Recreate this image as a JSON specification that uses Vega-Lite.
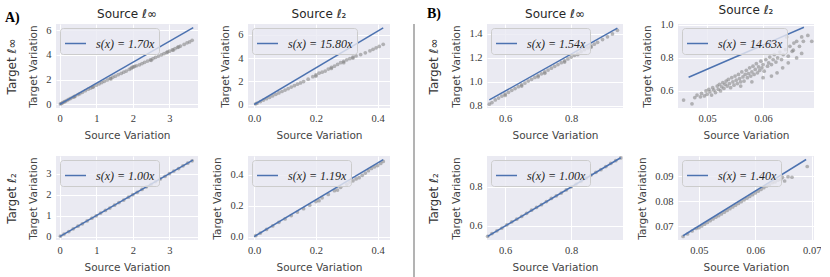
{
"$schema": "https://vega.github.io/schema/vega-lite/v6.json",
"padding": {"left": 5, "top": 3, "right": 0, "bottom": 0},
"background": "white",
"datasets": {
"a1p": [{"x":0.02,"y":0.03},{"x":0.05,"y":0.08},{"x":0.08,"y":0.12},{"x":0.12,"y":0.19},{"x":0.15,"y":0.23},{"x":0.2,"y":0.31},{"x":0.25,"y":0.4},{"x":0.3,"y":0.47},{"x":0.36,"y":0.57},{"x":0.4,"y":0.61},{"x":0.42,"y":0.66},{"x":0.5,"y":0.79},{"x":0.55,"y":0.86},{"x":0.62,"y":0.97},{"x":0.7,"y":1.1},{"x":0.78,"y":1.22},{"x":0.85,"y":1.31},{"x":0.9,"y":1.38},{"x":0.92,"y":1.43},{"x":1.0,"y":1.55},{"x":1.08,"y":1.66},{"x":1.15,"y":1.76},{"x":1.22,"y":1.86},{"x":1.3,"y":1.97},{"x":1.38,"y":2.09},{"x":1.4,"y":2.05},{"x":1.45,"y":2.19},{"x":1.52,"y":2.28},{"x":1.6,"y":2.4},{"x":1.68,"y":2.5},{"x":1.75,"y":2.6},{"x":1.82,"y":2.69},{"x":1.9,"y":2.82},{"x":1.95,"y":2.9},{"x":1.98,"y":2.98},{"x":2.02,"y":3.02},{"x":2.05,"y":3.08},{"x":2.1,"y":3.12},{"x":2.18,"y":3.2},{"x":2.25,"y":3.3},{"x":2.32,"y":3.4},{"x":2.4,"y":3.5},{"x":2.48,"y":3.6},{"x":2.5,"y":3.56},{"x":2.55,"y":3.7},{"x":2.62,"y":3.8},{"x":2.7,"y":3.9},{"x":2.78,"y":4.01},{"x":2.85,"y":4.1},{"x":2.92,"y":4.19},{"x":2.95,"y":4.24},{"x":3.0,"y":4.3},{"x":3.08,"y":4.41},{"x":3.1,"y":4.38},{"x":3.15,"y":4.5},{"x":3.22,"y":4.6},{"x":3.25,"y":4.64},{"x":3.3,"y":4.71},{"x":3.4,"y":4.85},{"x":3.48,"y":4.98},{"x":3.55,"y":5.05},{"x":3.62,"y":5.18}],
"a1l": [{"x":0,"y":0,"label":"s(x) = 1.70x"},{"x":3.65,"y":6.205,"label":"s(x) = 1.70x"}],
"a2p": [{"x":0.005,"y":0.06},{"x":0.01,"y":0.13},{"x":0.02,"y":0.25},{"x":0.03,"y":0.38},{"x":0.04,"y":0.5},{"x":0.05,"y":0.62},{"x":0.06,"y":0.75},{"x":0.07,"y":0.88},{"x":0.08,"y":1.0},{"x":0.09,"y":1.12},{"x":0.1,"y":1.24},{"x":0.11,"y":1.36},{"x":0.12,"y":1.5},{"x":0.13,"y":1.62},{"x":0.14,"y":1.75},{"x":0.15,"y":1.86},{"x":0.16,"y":1.98},{"x":0.175,"y":2.18},{"x":0.19,"y":2.4},{"x":0.2,"y":2.45},{"x":0.2,"y":2.55},{"x":0.21,"y":2.7},{"x":0.22,"y":2.78},{"x":0.23,"y":2.88},{"x":0.24,"y":3.05},{"x":0.25,"y":3.1},{"x":0.25,"y":3.2},{"x":0.26,"y":3.3},{"x":0.27,"y":3.45},{"x":0.28,"y":3.6},{"x":0.29,"y":3.6},{"x":0.29,"y":3.72},{"x":0.3,"y":3.85},{"x":0.31,"y":3.95},{"x":0.32,"y":4.0},{"x":0.32,"y":4.08},{"x":0.33,"y":4.18},{"x":0.345,"y":4.3},{"x":0.36,"y":4.45},{"x":0.375,"y":4.62},{"x":0.385,"y":4.75},{"x":0.395,"y":4.88},{"x":0.405,"y":5.0},{"x":0.418,"y":5.18}],
"a2l": [{"x":0,"y":0,"label":"s(x) = 15.80x"},{"x":0.418,"y":6.6,"label":"s(x) = 15.80x"}],
"a3p": [{"x":0.02,"y":0.02},{"x":0.12,"y":0.12},{"x":0.25,"y":0.24},{"x":0.37,"y":0.37},{"x":0.5,"y":0.5},{"x":0.62,"y":0.61},{"x":0.75,"y":0.75},{"x":0.88,"y":0.88},{"x":1.0,"y":0.99},{"x":1.12,"y":1.12},{"x":1.25,"y":1.25},{"x":1.37,"y":1.36},{"x":1.5,"y":1.5},{"x":1.62,"y":1.62},{"x":1.75,"y":1.74},{"x":1.88,"y":1.88},{"x":2.0,"y":2.0},{"x":2.12,"y":2.11},{"x":2.25,"y":2.25},{"x":2.37,"y":2.37},{"x":2.5,"y":2.49},{"x":2.62,"y":2.62},{"x":2.75,"y":2.75},{"x":2.88,"y":2.87},{"x":3.0,"y":3.0},{"x":3.12,"y":3.12},{"x":3.25,"y":3.24},{"x":3.37,"y":3.37},{"x":3.5,"y":3.5},{"x":3.62,"y":3.61}],
"a3l": [{"x":0,"y":0,"label":"s(x) = 1.00x"},{"x":3.64,"y":3.64,"label":"s(x) = 1.00x"}],
"a4p": [{"x":0.005,"y":0.006},{"x":0.02,"y":0.023},{"x":0.04,"y":0.046},{"x":0.06,"y":0.069},{"x":0.08,"y":0.092},{"x":0.1,"y":0.114},{"x":0.12,"y":0.136},{"x":0.14,"y":0.158},{"x":0.16,"y":0.18},{"x":0.18,"y":0.203},{"x":0.2,"y":0.226},{"x":0.21,"y":0.232},{"x":0.22,"y":0.25},{"x":0.24,"y":0.272},{"x":0.26,"y":0.296},{"x":0.27,"y":0.3},{"x":0.28,"y":0.318},{"x":0.3,"y":0.338},{"x":0.31,"y":0.352},{"x":0.32,"y":0.36},{"x":0.33,"y":0.372},{"x":0.34,"y":0.38},{"x":0.35,"y":0.395},{"x":0.36,"y":0.41},{"x":0.37,"y":0.425},{"x":0.38,"y":0.44},{"x":0.39,"y":0.45},{"x":0.4,"y":0.458},{"x":0.41,"y":0.472},{"x":0.418,"y":0.485}],
"a4l": [{"x":0,"y":0,"label":"s(x) = 1.19x"},{"x":0.418,"y":0.497,"label":"s(x) = 1.19x"}],
"b1p": [{"x":0.552,"y":0.815},{"x":0.56,"y":0.828},{"x":0.57,"y":0.85},{"x":0.58,"y":0.866},{"x":0.59,"y":0.882},{"x":0.6,"y":0.899},{"x":0.6,"y":0.888},{"x":0.61,"y":0.914},{"x":0.62,"y":0.93},{"x":0.63,"y":0.945},{"x":0.64,"y":0.961},{"x":0.65,"y":0.976},{"x":0.65,"y":0.966},{"x":0.66,"y":0.991},{"x":0.67,"y":1.007},{"x":0.68,"y":1.022},{"x":0.69,"y":1.038},{"x":0.7,"y":1.053},{"x":0.7,"y":1.043},{"x":0.71,"y":1.068},{"x":0.72,"y":1.084},{"x":0.72,"y":1.072},{"x":0.73,"y":1.099},{"x":0.74,"y":1.115},{"x":0.75,"y":1.13},{"x":0.76,"y":1.145},{"x":0.77,"y":1.161},{"x":0.78,"y":1.176},{"x":0.78,"y":1.166},{"x":0.79,"y":1.192},{"x":0.8,"y":1.207},{"x":0.81,"y":1.222},{"x":0.82,"y":1.238},{"x":0.82,"y":1.228},{"x":0.83,"y":1.253},{"x":0.84,"y":1.269},{"x":0.85,"y":1.284},{"x":0.86,"y":1.299},{"x":0.86,"y":1.29},{"x":0.87,"y":1.315},{"x":0.88,"y":1.33},{"x":0.895,"y":1.353},{"x":0.91,"y":1.376},{"x":0.925,"y":1.4},{"x":0.94,"y":1.43}],
"b1l": [{"x":0.552,"y":0.85,"label":"s(x) = 1.54x"},{"x":0.94,"y":1.448,"label":"s(x) = 1.54x"}],
"b2p": [{"x":0.0458,"y":0.545},{"x":0.0473,"y":0.522},{"x":0.0478,"y":0.56},{"x":0.0482,"y":0.575},{"x":0.0488,"y":0.565},{"x":0.049,"y":0.585},{"x":0.0495,"y":0.57},{"x":0.0498,"y":0.6},{"x":0.05,"y":0.58},{"x":0.0503,"y":0.61},{"x":0.0505,"y":0.595},{"x":0.0508,"y":0.575},{"x":0.051,"y":0.62},{"x":0.0512,"y":0.605},{"x":0.0515,"y":0.59},{"x":0.0518,"y":0.63},{"x":0.052,"y":0.61},{"x":0.0522,"y":0.64},{"x":0.0524,"y":0.6},{"x":0.0526,"y":0.625},{"x":0.0528,"y":0.65},{"x":0.053,"y":0.615},{"x":0.0532,"y":0.64},{"x":0.0534,"y":0.66},{"x":0.0536,"y":0.63},{"x":0.0538,"y":0.67},{"x":0.054,"y":0.645},{"x":0.0542,"y":0.62},{"x":0.0544,"y":0.68},{"x":0.0546,"y":0.655},{"x":0.0548,"y":0.635},{"x":0.055,"y":0.69},{"x":0.0552,"y":0.665},{"x":0.0554,"y":0.645},{"x":0.0556,"y":0.7},{"x":0.0558,"y":0.675},{"x":0.056,"y":0.655},{"x":0.056,"y":0.63},{"x":0.0562,"y":0.715},{"x":0.0564,"y":0.685},{"x":0.0566,"y":0.66},{"x":0.0568,"y":0.7},{"x":0.057,"y":0.725},{"x":0.0572,"y":0.68},{"x":0.0574,"y":0.705},{"x":0.0576,"y":0.74},{"x":0.0578,"y":0.69},{"x":0.058,"y":0.715},{"x":0.058,"y":0.655},{"x":0.0582,"y":0.75},{"x":0.0584,"y":0.7},{"x":0.0586,"y":0.73},{"x":0.0588,"y":0.765},{"x":0.059,"y":0.71},{"x":0.0592,"y":0.745},{"x":0.0594,"y":0.725},{"x":0.0596,"y":0.78},{"x":0.0598,"y":0.74},{"x":0.06,"y":0.76},{"x":0.06,"y":0.68},{"x":0.0602,"y":0.72},{"x":0.0605,"y":0.79},{"x":0.0608,"y":0.75},{"x":0.061,"y":0.77},{"x":0.0612,"y":0.805},{"x":0.06125,"y":0.89},{"x":0.0615,"y":0.76},{"x":0.0615,"y":0.69},{"x":0.0618,"y":0.79},{"x":0.062,"y":0.82},{"x":0.0623,"y":0.775},{"x":0.0625,"y":0.71},{"x":0.0626,"y":0.8},{"x":0.063,"y":0.835},{"x":0.0633,"y":0.79},{"x":0.0635,"y":0.74},{"x":0.0636,"y":0.82},{"x":0.064,"y":0.85},{"x":0.0642,"y":0.927},{"x":0.0645,"y":0.81},{"x":0.0645,"y":0.77},{"x":0.0648,"y":0.87},{"x":0.0652,"y":0.84},{"x":0.0654,"y":0.847},{"x":0.0655,"y":0.89},{"x":0.066,"y":0.9},{"x":0.066,"y":0.8},{"x":0.0665,"y":0.87},{"x":0.0669,"y":0.927},{"x":0.0669,"y":0.827},{"x":0.0672,"y":0.9},{"x":0.068,"y":0.936},{"x":0.0687,"y":0.9}],
"b2l": [{"x":0.0467,"y":0.683,"label":"s(x) = 14.63x"},{"x":0.0673,"y":0.985,"label":"s(x) = 14.63x"}],
"b3p": [{"x":0.547,"y":0.547},{"x":0.56,"y":0.561},{"x":0.575,"y":0.575},{"x":0.59,"y":0.589},{"x":0.605,"y":0.605},{"x":0.62,"y":0.621},{"x":0.635,"y":0.635},{"x":0.65,"y":0.649},{"x":0.665,"y":0.665},{"x":0.68,"y":0.681},{"x":0.695,"y":0.695},{"x":0.71,"y":0.709},{"x":0.725,"y":0.725},{"x":0.74,"y":0.741},{"x":0.755,"y":0.755},{"x":0.77,"y":0.769},{"x":0.785,"y":0.785},{"x":0.8,"y":0.801},{"x":0.815,"y":0.815},{"x":0.83,"y":0.829},{"x":0.845,"y":0.845},{"x":0.86,"y":0.861},{"x":0.875,"y":0.875},{"x":0.89,"y":0.889},{"x":0.905,"y":0.905},{"x":0.92,"y":0.921},{"x":0.935,"y":0.935},{"x":0.95,"y":0.949}],
"b3l": [{"x":0.547,"y":0.547,"label":"s(x) = 1.00x"},{"x":0.95,"y":0.95,"label":"s(x) = 1.00x"}],
"b4p": [{"x":0.0472,"y":0.0658},{"x":0.048,"y":0.0668},{"x":0.0488,"y":0.068},{"x":0.0495,"y":0.069},{"x":0.05,"y":0.0693},{"x":0.0505,"y":0.07},{"x":0.051,"y":0.0707},{"x":0.0515,"y":0.0714},{"x":0.052,"y":0.0721},{"x":0.0525,"y":0.0728},{"x":0.053,"y":0.0735},{"x":0.0535,"y":0.0741},{"x":0.054,"y":0.0748},{"x":0.0545,"y":0.0755},{"x":0.055,"y":0.0762},{"x":0.0555,"y":0.0769},{"x":0.056,"y":0.0776},{"x":0.0565,"y":0.0783},{"x":0.057,"y":0.079},{"x":0.0575,"y":0.0797},{"x":0.058,"y":0.0804},{"x":0.0585,"y":0.0811},{"x":0.059,"y":0.0818},{"x":0.0595,"y":0.0825},{"x":0.06,"y":0.0832},{"x":0.0605,"y":0.0839},{"x":0.061,"y":0.0846},{"x":0.0615,"y":0.0853},{"x":0.062,"y":0.086},{"x":0.0625,"y":0.0865},{"x":0.063,"y":0.0873},{"x":0.0635,"y":0.0876},{"x":0.064,"y":0.0883},{"x":0.0645,"y":0.0887},{"x":0.0648,"y":0.0895},{"x":0.0652,"y":0.088},{"x":0.0658,"y":0.0897},{"x":0.0665,"y":0.0895},{"x":0.0692,"y":0.0938}],
"b4l": [{"x":0.0472,"y":0.0661,"label":"s(x) = 1.40x"},{"x":0.069,"y":0.0966,"label":"s(x) = 1.40x"}]
},
"hconcat": [
{
 "title": {"text": "A)", "anchor": "start", "frame": "bounds", "font": "Liberation Serif", "fontWeight": "bold", "fontSize": 14, "color": "black", "offset": -17},
 "columns": 2, "spacing": {"row": 48, "column": 50}, "bounds": "flush",
 "resolve": {"scale": {"color": "independent"}},
 "concat": [
  {"width": 142, "height": 84, "title": {"text": "Source ℓ∞", "frame": "group"},
   "layer": [
    {"data": {"name": "a1p"}, "mark": {"type": "circle", "size": 14, "color": "#808080", "opacity": 0.55},
     "encoding": {"x": {"field": "x", "type": "quantitative", "scale": {"domain": [-0.1, 3.78], "nice": false, "zero": false}, "axis": {"values": [0,1,2,3], "title": "Source Variation"}},
                  "y": {"field": "y", "type": "quantitative", "scale": {"domain": [-0.3, 6.5], "nice": false, "zero": false}, "axis": {"values": [0,2,4,6], "title": "Target Variation"}}}},
    {"data": {"name": "a1l"}, "mark": {"type": "line", "strokeWidth": 1.5},
     "encoding": {"x": {"field": "x", "type": "quantitative", "axis": {"values": [0,1,2,3], "title": "Source Variation"}},
                  "y": {"field": "y", "type": "quantitative", "scale": {"domain": [-0.3, 6.5], "nice": false, "zero": false}, "axis": {"orient": "left", "offset": 38, "labels": false, "grid": false, "title": "Target ℓ∞", "titleFontSize": 12, "titleColor": "#333333", "titlePadding": 0}},
                  "color": {"field": "label", "type": "nominal", "scale": {"range": ["#4C72B0"]}, "legend": {"title": null}}}}
   ],
   "resolve": {"scale": {"y": "independent"}}},
  {"width": 142, "height": 84, "title": {"text": "Source ℓ₂", "frame": "group"},
   "layer": [
    {"data": {"name": "a2p"}, "mark": {"type": "circle", "size": 14, "color": "#808080", "opacity": 0.55},
     "encoding": {"x": {"field": "x", "type": "quantitative", "scale": {"domain": [-0.02, 0.44], "nice": false, "zero": false}, "axis": {"values": [0,0.2,0.4], "format": ".1f", "title": "Source Variation"}},
                  "y": {"field": "y", "type": "quantitative", "scale": {"domain": [-0.3, 6.93], "nice": false, "zero": false}, "axis": {"values": [0,2,4,6], "title": "Target Variation"}}}},
    {"data": {"name": "a2l"}, "mark": {"type": "line", "strokeWidth": 1.5},
     "encoding": {"x": {"field": "x", "type": "quantitative", "axis": {"values": [0,0.2,0.4], "format": ".1f", "title": "Source Variation"}},
                  "y": {"field": "y", "type": "quantitative", "axis": {"values": [0,2,4,6], "title": "Target Variation"}},
                  "color": {"field": "label", "type": "nominal", "scale": {"range": ["#4C72B0"]}, "legend": {"title": null}}}}
   ]},
  {"width": 142, "height": 84,
   "layer": [
    {"data": {"name": "a3p"}, "mark": {"type": "circle", "size": 14, "color": "#808080", "opacity": 0.55},
     "encoding": {"x": {"field": "x", "type": "quantitative", "scale": {"domain": [-0.1, 3.78], "nice": false, "zero": false}, "axis": {"values": [0,1,2,3], "title": "Source Variation"}},
                  "y": {"field": "y", "type": "quantitative", "scale": {"domain": [-0.16, 3.84], "nice": false, "zero": false}, "axis": {"values": [0,1,2,3], "title": "Target Variation"}}}},
    {"data": {"name": "a3l"}, "mark": {"type": "line", "strokeWidth": 1.5},
     "encoding": {"x": {"field": "x", "type": "quantitative", "axis": {"values": [0,1,2,3], "title": "Source Variation"}},
                  "y": {"field": "y", "type": "quantitative", "scale": {"domain": [-0.16, 3.84], "nice": false, "zero": false}, "axis": {"orient": "left", "offset": 38, "labels": false, "grid": false, "title": "Target ℓ₂", "titleFontSize": 12, "titleColor": "#333333", "titlePadding": 0}},
                  "color": {"field": "label", "type": "nominal", "scale": {"range": ["#4C72B0"]}, "legend": {"title": null}}}}
   ],
   "resolve": {"scale": {"y": "independent"}}},
  {"width": 142, "height": 84,
   "layer": [
    {"data": {"name": "a4p"}, "mark": {"type": "circle", "size": 14, "color": "#808080", "opacity": 0.55},
     "encoding": {"x": {"field": "x", "type": "quantitative", "scale": {"domain": [-0.02, 0.44], "nice": false, "zero": false}, "axis": {"values": [0,0.2,0.4], "format": ".1f", "title": "Source Variation"}},
                  "y": {"field": "y", "type": "quantitative", "scale": {"domain": [-0.022, 0.52], "nice": false, "zero": false}, "axis": {"values": [0,0.2,0.4], "format": ".1f", "title": "Target Variation"}}}},
    {"data": {"name": "a4l"}, "mark": {"type": "line", "strokeWidth": 1.5},
     "encoding": {"x": {"field": "x", "type": "quantitative", "axis": {"values": [0,0.2,0.4], "format": ".1f", "title": "Source Variation"}},
                  "y": {"field": "y", "type": "quantitative", "axis": {"values": [0,0.2,0.4], "format": ".1f", "title": "Target Variation"}},
                  "color": {"field": "label", "type": "nominal", "scale": {"range": ["#4C72B0"]}, "legend": {"title": null}}}}
   ]}
 ]
},
{
 "width": 12, "height": 274,
 "view": {"fill": null, "stroke": null},
 "data": {"values": [{}]},
 "mark": {"type": "rule", "color": "#8a8a8a", "strokeWidth": 1.3},
 "encoding": {"x": {"datum": 1, "type": "quantitative", "scale": {"domain": [0, 1]}, "axis": null}}
},
{
 "title": {"text": "B)", "anchor": "start", "frame": "bounds", "font": "Liberation Serif", "fontWeight": "bold", "fontSize": 14, "color": "black", "offset": -17},
 "columns": 2, "spacing": {"row": 48, "column": 55}, "bounds": "flush",
 "resolve": {"scale": {"color": "independent"}},
 "concat": [
  {"width": 136, "height": 84, "title": {"text": "Source ℓ∞", "frame": "group"},
   "layer": [
    {"data": {"name": "b1p"}, "mark": {"type": "circle", "size": 14, "color": "#808080", "opacity": 0.55},
     "encoding": {"x": {"field": "x", "type": "quantitative", "scale": {"domain": [0.545, 0.957], "nice": false, "zero": false}, "axis": {"values": [0.6,0.8], "format": ".1f", "title": "Source Variation"}},
                  "y": {"field": "y", "type": "quantitative", "scale": {"domain": [0.783, 1.483], "nice": false, "zero": false}, "axis": {"values": [0.8,1.0,1.2,1.4], "format": ".1f", "title": "Target Variation"}}}},
    {"data": {"name": "b1l"}, "mark": {"type": "line", "strokeWidth": 1.5},
     "encoding": {"x": {"field": "x", "type": "quantitative", "axis": {"values": [0.6,0.8], "format": ".1f", "title": "Source Variation"}},
                  "y": {"field": "y", "type": "quantitative", "scale": {"domain": [0.783, 1.483], "nice": false, "zero": false}, "axis": {"orient": "left", "offset": 47, "labels": false, "grid": false, "title": "Target ℓ∞", "titleFontSize": 12, "titleColor": "#333333", "titlePadding": 0}},
                  "color": {"field": "label", "type": "nominal", "scale": {"range": ["#4C72B0"]}, "legend": {"title": null}}}}
   ],
   "resolve": {"scale": {"y": "independent"}}},
  {"width": 136, "height": 84, "title": {"text": "Source ℓ₂", "frame": "group"},
   "layer": [
    {"data": {"name": "b2p"}, "mark": {"type": "circle", "size": 14, "color": "#808080", "opacity": 0.55},
     "encoding": {"x": {"field": "x", "type": "quantitative", "scale": {"domain": [0.0448, 0.0691], "nice": false, "zero": false}, "axis": {"values": [0.05,0.06], "format": ".2f", "title": "Source Variation"}},
                  "y": {"field": "y", "type": "quantitative", "scale": {"domain": [0.497, 1.005], "nice": false, "zero": false}, "axis": {"values": [0.6,0.8,1.0], "format": ".1f", "title": "Target Variation"}}}},
    {"data": {"name": "b2l"}, "mark": {"type": "line", "strokeWidth": 1.5},
     "encoding": {"x": {"field": "x", "type": "quantitative", "axis": {"values": [0.05,0.06], "format": ".2f", "title": "Source Variation"}},
                  "y": {"field": "y", "type": "quantitative", "axis": {"values": [0.6,0.8,1.0], "format": ".1f", "title": "Target Variation"}},
                  "color": {"field": "label", "type": "nominal", "scale": {"range": ["#4C72B0"]}, "legend": {"title": null}}}}
   ]},
  {"width": 136, "height": 84,
   "layer": [
    {"data": {"name": "b3p"}, "mark": {"type": "circle", "size": 14, "color": "#808080", "opacity": 0.55},
     "encoding": {"x": {"field": "x", "type": "quantitative", "scale": {"domain": [0.545, 0.957], "nice": false, "zero": false}, "axis": {"values": [0.6,0.8], "format": ".1f", "title": "Source Variation"}},
                  "y": {"field": "y", "type": "quantitative", "scale": {"domain": [0.528, 0.959], "nice": false, "zero": false}, "axis": {"values": [0.6,0.8], "format": ".1f", "title": "Target Variation"}}}},
    {"data": {"name": "b3l"}, "mark": {"type": "line", "strokeWidth": 1.5},
     "encoding": {"x": {"field": "x", "type": "quantitative", "axis": {"values": [0.6,0.8], "format": ".1f", "title": "Source Variation"}},
                  "y": {"field": "y", "type": "quantitative", "scale": {"domain": [0.528, 0.959], "nice": false, "zero": false}, "axis": {"orient": "left", "offset": 47, "labels": false, "grid": false, "title": "Target ℓ₂", "titleFontSize": 12, "titleColor": "#333333", "titlePadding": 0}},
                  "color": {"field": "label", "type": "nominal", "scale": {"range": ["#4C72B0"]}, "legend": {"title": null}}}}
   ],
   "resolve": {"scale": {"y": "independent"}}},
  {"width": 136, "height": 84,
   "layer": [
    {"data": {"name": "b4p"}, "mark": {"type": "circle", "size": 14, "color": "#808080", "opacity": 0.55},
     "encoding": {"x": {"field": "x", "type": "quantitative", "scale": {"domain": [0.0463, 0.0704], "nice": false, "zero": false}, "axis": {"values": [0.05,0.06,0.07], "format": ".2f", "title": "Source Variation"}},
                  "y": {"field": "y", "type": "quantitative", "scale": {"domain": [0.0644, 0.098], "nice": false, "zero": false}, "axis": {"values": [0.07,0.08,0.09], "format": ".2f", "title": "Target Variation"}}}},
    {"data": {"name": "b4l"}, "mark": {"type": "line", "strokeWidth": 1.5},
     "encoding": {"x": {"field": "x", "type": "quantitative", "axis": {"values": [0.05,0.06,0.07], "format": ".2f", "title": "Source Variation"}},
                  "y": {"field": "y", "type": "quantitative", "axis": {"values": [0.07,0.08,0.09], "format": ".2f", "title": "Target Variation"}},
                  "color": {"field": "label", "type": "nominal", "scale": {"range": ["#4C72B0"]}, "legend": {"title": null}}}}
   ]}
 ]
}
],
"spacing": 12,
"resolve": {"scale": {"color": "independent"}},
"config": {
 "view": {"fill": "#EAEAF2", "stroke": null},
 "style": {"guide-title": {"fontWeight": 400}},
 "axis": {"domain": false, "ticks": false, "gridColor": "#ffffff", "gridWidth": 1, "gridOpacity": 1,
          "labelFont": "Liberation Serif", "labelFontSize": 10.5, "labelColor": "#3a3a3a", "labelPadding": 5,
          "titleFont": "DejaVu Sans", "titleFontSize": 10.5, "titleFontWeight": 400, "titleColor": "#444444", "titlePadding": 7},
 "title": {"font": "DejaVu Sans", "fontSize": 12, "fontWeight": 400, "color": "#262626", "offset": 3},
 "legend": {"orient": "top-left", "offset": 4, "padding": 4, "fillColor": "rgba(234,234,242,0.8)", "strokeColor": "#cccccc", "cornerRadius": 3,
            "symbolType": "stroke", "symbolSize": 440, "symbolStrokeWidth": 1.5, "labelOffset": 9,
            "labelFont": "Liberation Serif", "labelFontStyle": "italic", "labelFontSize": 12, "labelColor": "#262626"}
}
}
